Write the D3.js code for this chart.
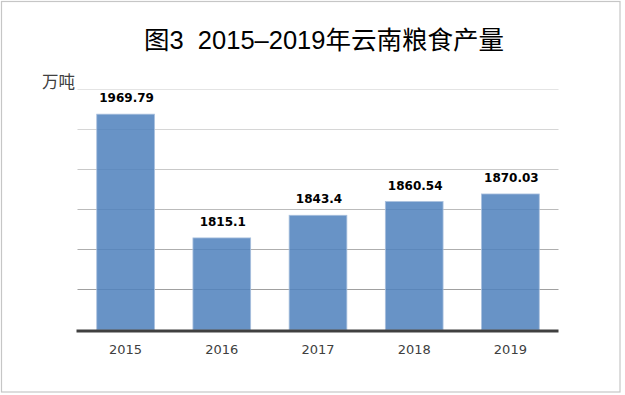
<!DOCTYPE html>
<html>
<head>
<meta charset="utf-8">
<script src="https://cdnjs.cloudflare.com/ajax/libs/d3/7.8.5/d3.min.js"></script>
<style>
	body { margin: 0; background: #fff; }
</style>
</head>
<body>
<div id="wrapper"></div>
<script>
// chart data
const years = ["2015", "2016", "2017", "2018", "2019"];
const output = [1969.79, 1815.1, 1843.4, 1860.54, 1870.03];
const outputLabels = ["1969.79", "1815.1", "1843.4", "1860.54", "1870.03"];
const yTicks = [1700, 1750, 1800, 1850, 1900, 1950, 2000];

function drawChart() {
	const width = 625;
	const height = 395;

	const plot = { left: 77.5, right: 558.5, top: 90, bottom: 330 };

	const canvas = d3.select("#wrapper")
		.append("svg")
		.attr("width", width)
		.attr("height", height);

	// outer frame
	canvas.append("rect")
		.attr("x", 1.5)
		.attr("y", 1.5)
		.attr("width", 618.5)
		.attr("height", 390.5)
		.attr("fill", "#fff")
		.attr("stroke", "#c6c6c6")
		.attr("stroke-width", 1.2);

	const xScale = d3.scaleBand()
		.domain(years)
		.range([plot.left, plot.right])
		.paddingInner(0.4)
		.paddingOuter(0.2);

	const yScale = d3.scaleLinear()
		.domain([1700, 2000])
		.range([plot.bottom, plot.top]);

	// gridlines get darker towards the baseline
	const gridCol = d3.scaleLinear()
		.domain([1750, 2000])
		.range(["#a0a0a0", "#e4e4e4"]);

	canvas.append("g")
		.selectAll("line")
		.data(yTicks.slice(1))
		.enter().append("line")
		.attr("x1", plot.left)
		.attr("x2", plot.right)
		.attr("y1", d => Math.round(yScale(d)) - 0.5)
		.attr("y2", d => Math.round(yScale(d)) - 0.5)
		.attr("stroke", d => gridCol(d))
		.attr("stroke-width", 1.2);

	// bars
	canvas.append("g")
		.selectAll("rect")
		.data(output)
		.enter().append("rect")
		.attr("x", (d, i) => xScale(years[i]))
		.attr("y", d => yScale(d))
		.attr("width", xScale.bandwidth())
		.attr("height", d => plot.bottom - yScale(d))
		.attr("fill", "#4f81bd")
		.attr("fill-opacity", 0.86)
		.attr("stroke", "#a9c0de")
		.attr("stroke-width", 0.8);

	// baseline axis
	const xAxis = d3.axisBottom(xScale).tickSize(0).tickPadding(14);
	const axisG = canvas.append("g")
		.attr("transform", `translate(0,${plot.bottom + 1})`)
		.call(xAxis);
	axisG.select(".domain")
		.attr("stroke", "#404040")
		.attr("stroke-width", 3)
		.attr("d", `M${plot.left - 1},0H${plot.right}`);
	axisG.selectAll("text")
		.attr("font-family", "DejaVu Sans, sans-serif")
		.attr("font-size", 13)
		.attr("fill", "#404040");

	// value labels
	canvas.append("g")
		.selectAll("text")
		.data(output)
		.enter().append("text")
		.attr("x", (d, i) => xScale(years[i]) + xScale.bandwidth() / 2 + 1)
		.attr("y", d => yScale(d) - 12)
		.attr("text-anchor", "middle")
		.attr("font-family", "DejaVu Sans, sans-serif")
		.attr("font-weight", "bold")
		.attr("font-size", 12)
		.attr("fill", "#000")
		.text((d, i) => outputLabels[i]);

	// title
	canvas.append("text")
		.attr("x", 324)
		.attr("y", 49)
		.attr("text-anchor", "middle")
		.attr("font-family", "Liberation Sans, Noto Sans CJK SC, sans-serif")
		.attr("font-size", 25.5)
		.attr("fill", "#000")
		.style("white-space", "pre")
		.text("图3  2015–2019年云南粮食产量");

	// unit
	canvas.append("text")
		.attr("x", 42)
		.attr("y", 88)
		.attr("font-family", "Noto Sans CJK SC, sans-serif")
		.attr("font-size", 16.5)
		.attr("fill", "#404040")
		.text("万吨");
}
drawChart();
</script>
</body>
</html>
